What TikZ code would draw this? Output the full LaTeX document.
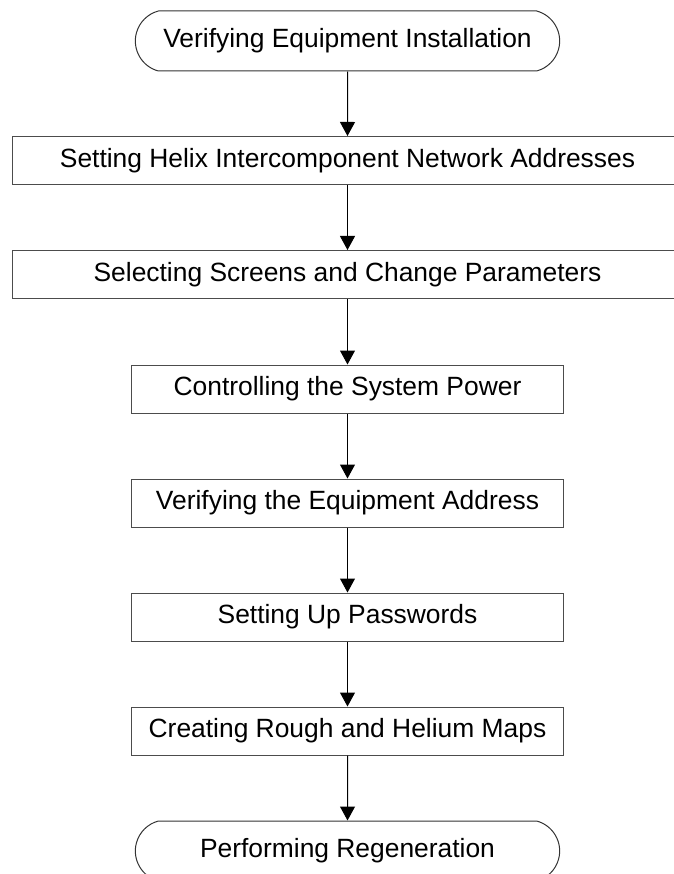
\documentclass[tikz,border=0pt]{standalone}
\usepackage{fontspec}
\setmainfont{Liberation Sans}
\usetikzlibrary{arrows.meta,shapes.misc,positioning}

\begin{document}
\begin{tikzpicture}
[x=1pt, y=-1pt,
every node/.style={font=\fontsize{26.4}{31}\selectfont},
stepbox/.style={draw=black!70, line width=1pt, rectangle, minimum width=432pt, minimum height=48pt},
widebox/.style={stepbox, minimum width=671pt},
endbox/.style={draw=black!80, line width=1pt, rounded rectangle, rounded rectangle arc length=150, minimum width=431pt, minimum height=60pt},
edge/.style={-{Triangle[length=14pt,width=15pt]}, line width=1pt, shorten >=.0pt, shorten <=.0pt}]
%%
\useasboundingbox (0,0) rectangle (673,874);
%%
\node[endbox] (install) at (347.5,41) {Verifying Equipment Installation};
\node[widebox] (netaddr) at (347.5,160.5) {Setting Helix Intercomponent Network Addresses};
\node[widebox] (screens) at (347.5,274.5) {Selecting Screens and Change Parameters};
\node[stepbox] (power) at (347.5,389) {Controlling the System Power};
\node[stepbox] (addr) at (347.5,503) {Verifying the Equipment Address};
\node[stepbox] (passwd) at (347.5,617) {Setting Up Passwords};
\node[stepbox] (maps) at (347.5,731) {Creating Rough and Helium Maps};
\node[endbox] (regen) at (347.5,851) {Performing Regeneration};
%%
\draw[edge] (install) -- (netaddr);
\draw[edge] (netaddr) -- (screens);
\draw[edge] (screens) -- (power);
\draw[edge] (power) -- (addr);
\draw[edge] (addr) -- (passwd);
\draw[edge] (passwd) -- (maps);
\draw[edge] (maps) -- (regen);
\end{tikzpicture}
\end{document}
